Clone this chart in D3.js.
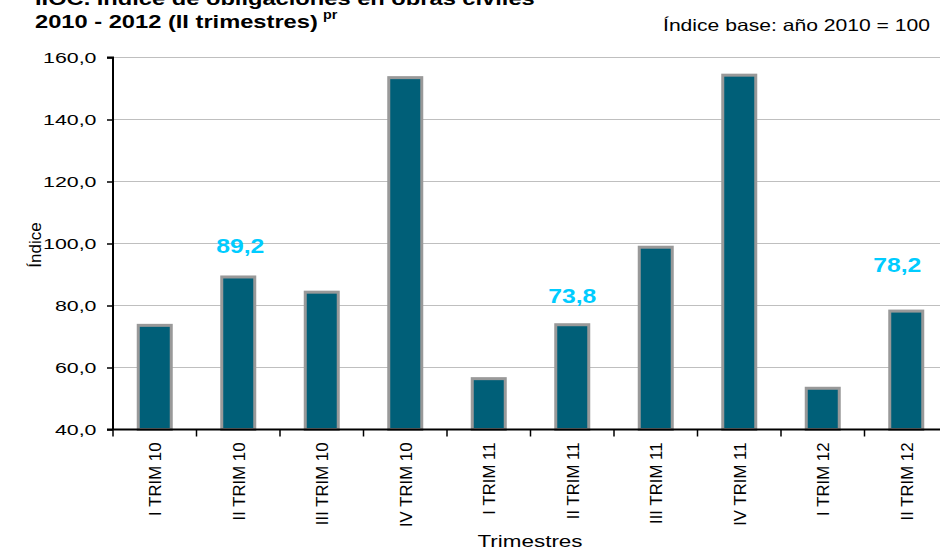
<!DOCTYPE html>
<html><head><meta charset="utf-8">
<script src="https://cdnjs.cloudflare.com/ajax/libs/d3/7.8.5/d3.min.js"></script>
<style>
body{margin:0;background:#fff;}
svg{display:block;font-family:"Liberation Sans",Arial,sans-serif;}
</style></head><body>
<svg id="c" width="940" height="550"></svg>
<script>
const categories = ["I TRIM 10","II TRIM 10","III TRIM 10","IV TRIM 10","I TRIM 11","II TRIM 11","III TRIM 11","IV TRIM 11","I TRIM 12","II TRIM 12"];
const values = [73.6, 89.2, 84.3, 153.5, 56.4, 73.8, 98.8, 154.3, 53.3, 78.2];
const labelled = ["II TRIM 10","II TRIM 11","II TRIM 12"];
const yTicks = [40,60,80,100,120,140,160];
const titleLine1 = "IIOC. Índice de obligaciones en obras civiles";
const titleLine2 = "2010 - 2012 (II trimestres)";
const titleSup = "pr";
const baseNote = "Índice base: año 2010 = 100";
const yTitle = "Índice";
const xTitle = "Trimestres";

const labelShift = {"II TRIM 10":{dx:2,dy:24},"II TRIM 11":{dx:0,dy:22},"II TRIM 12":{dx:-9,dy:39}};

const svg = d3.select("#c");
const pLeft = 113, pRight = 948, pTop = 57.5, pBottom = 429.5;
const x = d3.scaleBand().domain(categories).range([pLeft,pRight]).paddingInner(0).paddingOuter(0);
const y = d3.scaleLinear().domain([40,160]).range([pBottom,pTop]);
const fmt = v => d3.format(".1f")(v).replace(".",",");

// gridlines
svg.append("g").selectAll("line").data(yTicks.filter(t=>t>40)).join("line")
  .attr("x1",pLeft).attr("x2",940).attr("y1",d=>y(d)).attr("y2",d=>y(d))
  .attr("stroke","#BFBFBF").attr("stroke-width",1.2);

// bars
const bw = 33;
svg.append("g").selectAll("rect").data(categories).join("rect")
  .attr("x",(d)=>x(d)+x.bandwidth()/2-bw/2)
  .attr("y",(d,i)=>y(values[i]))
  .attr("width",bw)
  .attr("height",(d,i)=>pBottom-y(values[i]))
  .attr("fill","#005F78").attr("stroke","#999999").attr("stroke-width",3);

// y axis
const ya = svg.append("g").attr("transform",`translate(${pLeft},0)`)
  .call(d3.axisLeft(y).tickValues(yTicks).tickFormat(fmt).tickSize(6).tickPadding(9));
ya.select(".domain").attr("stroke","#000").attr("stroke-width",2).attr("d",`M-6,${pTop}H0V${pBottom}`);
ya.selectAll(".tick line").attr("stroke","#000").attr("stroke-width",1.5);
ya.selectAll("text").attr("font-size",15.5).attr("fill","#000").attr("font-family","Liberation Sans, Arial, sans-serif")
  .attr("x",0).attr("transform",`translate(-16.5,0) scale(1.38,1)`);

// x axis
const xa = svg.append("g").attr("transform",`translate(0,${pBottom})`);
xa.append("line").attr("x1",pLeft-6).attr("x2",940).attr("y1",0).attr("y2",0).attr("stroke","#000").attr("stroke-width",2);
xa.selectAll("line.tk").data(categories).join("line").attr("class","tk")
  .attr("x1",d=>x(d)).attr("x2",d=>x(d)).attr("y1",0).attr("y2",7).attr("stroke","#000").attr("stroke-width",1.5);
xa.selectAll("text").data(categories).join("text")
  .attr("transform",d=>`translate(${x(d)+x.bandwidth()/2+6.5},13) rotate(-90)`)
  .attr("text-anchor","end").attr("font-size",16.8).text(d=>d);

// data labels
svg.append("g").selectAll("text").data(labelled).join("text")
  .attr("transform",d=>`translate(${x(d)+x.bandwidth()/2+labelShift[d].dx},${y(values[categories.indexOf(d)])-labelShift[d].dy}) scale(1.27,1)`)
  .attr("text-anchor","middle").attr("font-weight","bold").attr("font-size",19.5)
  .attr("fill","#00CCFF").text(d=>fmt(values[categories.indexOf(d)]));

// titles
svg.append("text").attr("transform",`translate(35,4.5) scale(1.28,1)`).attr("font-weight","bold").attr("font-size",18.5).text(titleLine1);
svg.append("text").attr("transform",`translate(35,28) scale(1.28,1)`).attr("font-weight","bold").attr("font-size",18.5).text(titleLine2);
svg.append("text").attr("transform",`translate(323,19) scale(1.2,1)`).attr("font-weight","bold").attr("font-size",12).text(titleSup);

svg.append("text").attr("transform",`translate(930,31) scale(1.28,1)`).attr("text-anchor","end").attr("font-size",16.5).text(baseNote);

svg.append("text").attr("transform","translate(41,245) rotate(-90)").attr("text-anchor","middle")
  .attr("font-size",17).text(yTitle);
svg.append("text").attr("transform",`translate(530,547) scale(1.36,1)`).attr("text-anchor","middle")
  .attr("font-size",16.5).text(xTitle);
</script></body></html>
